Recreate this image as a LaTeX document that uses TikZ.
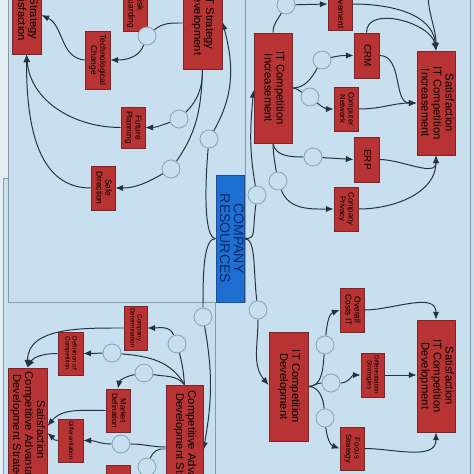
\documentclass[tikz,border=0pt]{standalone}
\usepackage{fontspec}
\setmainfont{Liberation Sans}
\usetikzlibrary{arrows.meta}

\definecolor{bgblue}{HTML}{C8DFF0}
\definecolor{edgewhite}{HTML}{E4EDF3}
\definecolor{boxred}{HTML}{B83434}
\definecolor{boxedge}{HTML}{7E2424}
\definecolor{resblue}{HTML}{1F6ED2}
\definecolor{resedge}{HTML}{1A4F9C}
\definecolor{restext}{HTML}{0B2A66}
\definecolor{knotedge}{HTML}{8AA3B8}
\definecolor{lncol}{HTML}{26323C}
\definecolor{panelgray}{HTML}{8C9AA6}

\pgfdeclarelayer{back}
\pgfsetlayers{back,main}

\newcommand{\vtxt}[1]{\rotatebox{-90}{\begin{tabular}{@{}c@{}}#1\end{tabular}}}

\tikzset{
  wh/.style 2 args={minimum width=#1*0.025cm, minimum height=#2*0.025cm},
  box/.style={draw=boxedge, fill=boxred, line width=0.6pt, inner sep=0pt},
  bigbox/.style={box, font=\fontsize{8}{8.5}\selectfont},
  smallbox/.style={box, font=\fontsize{6}{6.4}\selectfont},
  midbox/.style={box, font=\fontsize{5.5}{6}\selectfont},
  tinybox/.style={box, font=\fontsize{4.5}{5}\selectfont},
  resbox/.style={draw=resedge, fill=resblue, line width=0.6pt, inner sep=0pt,
    text=restext, font=\fontsize{10}{9}\selectfont},
  knot/.style={circle, draw=knotedge, fill=bgblue, line width=0.6pt,
    minimum size=0.45cm, inner sep=0pt},
  ln/.style={draw=lncol, line width=0.7pt},
  arr/.style={ln, -{Latex[length=5.5pt,width=4.5pt]}},
  panel/.style={draw=panelgray, line width=0.5pt}
}

\begin{document}
\begin{tikzpicture}[x=0.025cm, y=0.025cm]
\useasboundingbox (0,0) rectangle (474,-474);

% strategy panel
\node[bigbox, wh={29}{84}] (sits) at (26.5,-12) {\vtxt{IT Strategy\\Satisfaction}};
\node[smallbox, wh={24}{56}] (rsk) at (135,-3) {\vtxt{Risk\\Safeguarding}};
\node[bigbox, wh={39}{94}] (itsd) at (202.5,-22) {\vtxt{IT Strategy\\Development}};
\node[smallbox, wh={25}{58}] (tch) at (97.5,-60) {\vtxt{Technological\\Change}};
\node[smallbox, wh={24}{41}] (fut) at (133,-127.5) {\vtxt{Future\\Planning}};
\node[smallbox, wh={24}{44}] (safe) at (103,-188) {\vtxt{Safe\\Direction}};

% resources
\node[resbox, wh={28}{127}] (cmp) at (230,-238.5) {\vtxt{COMPANY\\RESOURCES}};

% competitive advantage panel
\node[tinybox, wh={23}{44}] (cdet) at (135.5,-328) {\vtxt{Company\\Determination}};
\node[tinybox, wh={25}{43}] (defc) at (70.5,-353.5) {\vtxt{Definition of\\Competition}};
\node[midbox, wh={24}{43}] (mkt) at (118,-410.5) {\vtxt{Market\\Defination}};
\node[tinybox, wh={25}{43}] (dif) at (70.5,-440.5) {\vtxt{Differentiation}};
\node[smallbox, wh={24}{60}] (bbx) at (118,-495) {};
\node[bigbox, wh={37}{128}] (cads) at (184.5,-449) {\vtxt{Competitive Advantage\\Development Strategy}};
\node[bigbox, wh={39}{124}] (scads) at (27.5,-430) {\vtxt{Satisfaction\\Competitive Advantage\\Development Strategy}};

% IT competition increasement panel
\node[smallbox, wh={24}{52}] (imp) at (340,-4) {\vtxt{Improvement}};
\node[bigbox, wh={38}{110}] (itci) at (273,-88) {\vtxt{IT Competition\\Increasement}};
\node[box, font=\fontsize{7}{7.5}\selectfont, wh={25}{45}] (crm) at (366.5,-55.5) {\vtxt{CRM}};
\node[midbox, wh={24}{44}] (cnet) at (346,-109) {\vtxt{Computer\\Network}};
\node[box, font=\fontsize{7}{7.5}\selectfont, wh={25}{45}] (erp) at (366.5,-159.5) {\vtxt{ERP}};
\node[midbox, wh={24}{44}] (cpriv) at (346,-209) {\vtxt{Company\\Privacy}};
\node[bigbox, wh={38}{104}] (sitci) at (436,-103) {\vtxt{Satisfaction\\IT Competition\\Increasement}};

% IT competition development panel
\node[smallbox, wh={24}{44}] (ocost) at (352,-310) {\vtxt{Overall\\Costs IT}};
\node[tinybox, wh={23}{44}] (dstr) at (372.5,-375) {\vtxt{Differentiation\\Strategies}};
\node[midbox, wh={24}{43}] (foc) at (352,-448.5) {\vtxt{Focus\\Strategy}};
\node[bigbox, wh={39}{109}] (itcd) at (288.5,-386.5) {\vtxt{IT Competition\\Development}};
\node[bigbox, wh={38}{112}] (sitcd) at (436,-376) {\vtxt{Satisfaction\\IT Competition\\Development}};

% knots
\node[knot] (ka) at (147,-36) {};
\node[knot] (kb) at (179,-119) {};
\node[knot] (kc) at (171,-169) {};
\node[knot] (kd) at (209,-139) {};
\node[knot] (ke) at (203,-317) {};
\node[knot] (kf) at (177,-344) {};
\node[knot] (kg) at (112,-353) {};
\node[knot] (kh) at (144,-373) {};
\node[knot] (ki) at (121,-444) {};
\node[knot] (kj) at (147,-467) {};
\node[knot] (kk) at (286,-5) {};
\node[knot] (kl) at (322,-60) {};
\node[knot] (km) at (310,-97) {};
\node[knot] (kn) at (313,-157) {};
\node[knot] (ko) at (278,-181) {};
\node[knot] (kp) at (257,-195) {};
\node[knot] (kq) at (258,-310) {};
\node[knot] (kr) at (325,-345) {};
\node[knot] (ks) at (331,-383) {};
\node[knot] (kt) at (325,-418) {};
\coordinate (topin) at (428,8);

\begin{pgfonlayer}{back}
\fill[bgblue] (0,0) rectangle (474,-474);
\fill[edgewhite] (0,0) rectangle (3,-474);
\fill[edgewhite] (3,0) rectangle (8,-178);
\draw[panel] (3,-178) rectangle (215,-490);
\filldraw[panel, fill=bgblue] (8,10) rectangle (245,-302);
\draw[panel] (245,-302) -- (245,10);
\draw[panel] (470,10) -- (470,-490);

% strategy branch
\draw[ln] (itsd.west |- 0,-23) to[out=180,in=40] (ka);
\draw[arr] (ka) to[out=-110,in=0] (tch.east);
\draw[arr] (tch.west) to[out=175,in=-25] (sits.east |- 0,-15);
\draw[ln] (itsd.south) to[out=-90,in=45] (kb);
\draw[arr] (kb) to[out=-160,in=0] (fut.east);
\draw[arr] (fut.west) to[out=180,in=-85] (sits.south);
\draw[ln] (itsd.south) to[out=-92,in=55] (kc);
\draw[arr] (kc) to[out=-150,in=0] (safe.east);
\draw[arr] (safe.west) to[out=180,in=-90] (sits.south);
\draw[ln] (cmp.west) .. controls +(-12,0) and +(-4,-45) .. (kd);
\draw[arr] (kd) to[out=60,in=-75] (itsd.east |- 0,-22);

% competitive advantage branch
\draw[ln] (cmp.west) .. controls +(-12,0) and +(0,45) .. (ke);
\draw[arr] (ke) to[out=-80,in=80] (cads.east |- 0,-450);
\draw[ln] (cads.north) to[out=95,in=-75] (kf);
\draw[arr] (kf) to[out=110,in=0] (cdet.east);
\draw[arr] (cdet.west) to[out=180,in=90] (scads.north);
\draw[ln] (cads.north) to[out=120,in=-5] (kg);
\draw[arr] (kg) -- (defc.east);
\draw[arr] (defc.west) to[out=180,in=60] (scads.north);
\draw[ln] (cads.north) to[out=130,in=-10] (kh);
\draw[arr] (kh) to[out=-170,in=80] (mkt.north);
\draw[arr] (mkt.west) to[out=180,in=50] (scads.east |- 0,-426);
\draw[ln] (cads.west |- 0,-447) to[out=180,in=0] (ki);
\draw[arr] (ki) to[out=180,in=0] (dif.east);
\draw[arr] (dif.west) to[out=180,in=-40] (scads.east |- 0,-433);
\draw[ln] (cads.west |- 0,-449) to[out=170,in=70] (kj);
\draw[ln] (kj) to[out=-110,in=0] (bbx.east |- 0,-500);

% increasement branch
\draw[ln] (cmp.east) .. controls +(12,0) and +(-5,-40) .. (kp);
\draw[arr] (kp) to[out=100,in=-95] (itci.west |- 0,-90);
\draw[ln] (itci.north) to[out=90,in=-120] (kk);
\draw[arr] (kk) -- (imp.west);
\draw[arr] (imp.east) to[out=0,in=95] (sitci.north);
\draw[arr] (topin) to[out=-90,in=90] (sitci.north);
\draw[arr] (crm.north) to[out=90,in=100] (sitci.north);
\draw[ln] (itci.east) to[out=0,in=-120] (kl);
\draw[arr] (kl) to[out=15,in=180] (crm.west);
\draw[arr] (crm.east) to[out=0,in=180] (sitci.west);
\draw[ln] (itci.east) to[out=0,in=150] (km);
\draw[arr] (km) to[out=-40,in=180] (cnet.west);
\draw[arr] (cnet.east) to[out=0,in=180] (sitci.west);
\draw[ln] (itci.south) to[out=-80,in=180] (kn);
\draw[arr] (kn) -- (erp.west);
\draw[arr] (erp.east) to[out=0,in=-90] (sitci.south);
\draw[ln] (itci.south) to[out=-88,in=100] (ko);
\draw[arr] (ko) to[out=-70,in=180] (cpriv.west);
\draw[arr] (cpriv.east) to[out=0,in=-90] (sitci.south);

% development branch
\draw[ln] (cmp.east) .. controls +(12,0) and +(-5,40) .. (kq);
\draw[arr] (kq) to[out=-90,in=130] (itcd.west |- 0,-385);
\draw[ln] (itcd.east) to[out=0,in=-95] (kr);
\draw[arr] (kr) to[out=85,in=200] (ocost.west);
\draw[ln] (itcd.east) to[out=0,in=180] (ks);
\draw[arr] (ks) to[out=0,in=180] (dstr.west);
\draw[ln] (itcd.east) to[out=0,in=95] (kt);
\draw[arr] (kt) to[out=-85,in=160] (foc.west);
\draw[arr] (ocost.east) to[out=0,in=90] (sitcd.north);
\draw[arr] (dstr.east) -- (sitcd.west |- dstr.east);
\draw[arr] (foc.east) to[out=0,in=-90] (sitcd.south);
\end{pgfonlayer}

\end{tikzpicture}
\end{document}
